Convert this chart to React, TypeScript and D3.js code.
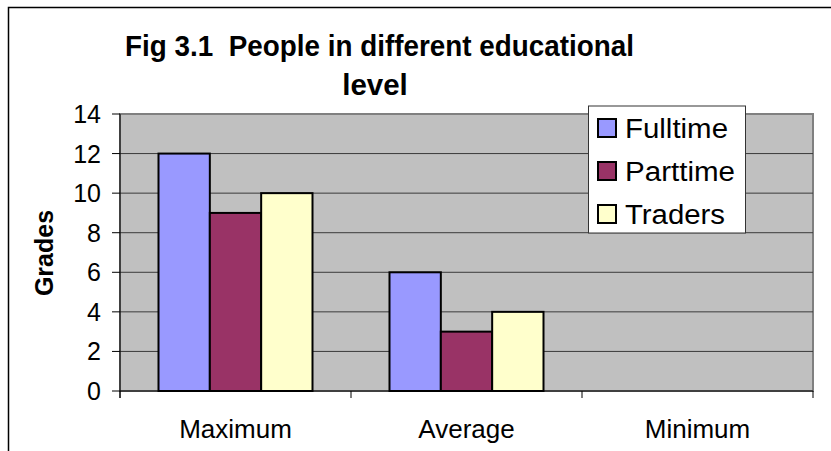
import React from "react";
import * as d3 from "d3";

const categories = ["Maximum", "Average", "Minimum"];
const seriesNames = ["Fulltime", "Parttime", "Traders"];
const fulltime = [12, 6, 0];
const parttime = [9, 3, 0];
const traders = [10, 4, 0];
const yTicks = [0, 2, 4, 6, 8, 10, 12, 14];
const colors = ["#9999FF", "#993366", "#FFFFCC"];

const W = 831, H = 451;
const plot = { left: 120, right: 813, top: 114, bottom: 391 };
const FONT = "Arial, 'Liberation Sans', sans-serif";

export default function App() {
  const series = [fulltime, parttime, traders];
  const x0 = d3.scaleBand<string>().domain(categories).range([plot.left, plot.right]).paddingInner(0).paddingOuter(0);
  const groupPad = x0.bandwidth() * (1.5 / 4.5) / 2;
  const x1 = d3.scaleBand<string>().domain(seriesNames).range([0, x0.bandwidth() - 2 * groupPad]).padding(0);
  const y = d3.scaleLinear().domain([0, 14]).range([plot.bottom, plot.top]);
  const catEdges = [...categories.map((c) => x0(c) as number), plot.right];
  const legendWidths = [103, 110, 100];

  return (
    <svg width={W} height={H} style={{ position: "absolute", left: 0, top: 0, display: "block" }} fontFamily={FONT}>
      <rect x={0} y={0} width={W} height={H} fill="#fff" />
      <rect x={8.5} y={7.5} width={W + 10} height={H + 10} fill="none" stroke="#000" strokeWidth={1.5} />
      <text x={125} y={56} fontWeight="bold" fontSize={29.5} textLength={509} lengthAdjust="spacingAndGlyphs" style={{ whiteSpace: "pre" }}>{"Fig 3.1  People in different educational"}</text>
      <text x={375} y={95} textAnchor="middle" fontWeight="bold" fontSize={29.5}>level</text>

      <rect x={plot.left} y={plot.top} width={plot.right - plot.left} height={plot.bottom - plot.top} fill="#C0C0C0" stroke="#808080" strokeWidth={2} />
      {yTicks.filter((t) => t > 0 && t < 14).map((t) => (
        <line key={"g" + t} x1={plot.left} x2={plot.right} y1={y(t)} y2={y(t)} stroke="#3a3a3a" strokeWidth={1} />
      ))}
      {categories.map((c, ci) =>
        series.map((s, si) =>
          s[ci] > 0 ? (
            <rect key={c + si}
              x={(x0(c) as number) + groupPad + (x1(seriesNames[si]) as number)}
              y={y(s[ci])}
              width={x1.bandwidth()}
              height={y(0) - y(s[ci])}
              fill={colors[si]} stroke="#000" strokeWidth={2} />
          ) : null
        )
      )}
      <line x1={plot.left} x2={plot.left} y1={plot.top} y2={plot.bottom + 7} stroke="#000" strokeWidth={1} />
      <line x1={plot.left} x2={plot.right} y1={plot.bottom} y2={plot.bottom} stroke="#000" strokeWidth={1.2} />
      {yTicks.map((t) => (
        <g key={"t" + t}>
          <line x1={plot.left - 8} x2={plot.left} y1={y(t)} y2={y(t)} stroke="#000" strokeWidth={1} />
          <text x={101} y={y(t) + 9} textAnchor="end" fontSize={25}>{t}</text>
        </g>
      ))}
      {catEdges.map((e, i) => (
        <line key={"c" + i} x1={e} x2={e} y1={plot.bottom} y2={plot.bottom + 7} stroke="#000" strokeWidth={1} />
      ))}
      {categories.map((c) => (
        <text key={"l" + c} x={(x0(c) as number) + x0.bandwidth() / 2} y={438} textAnchor="middle" fontSize={26}>{c}</text>
      ))}
      <text transform={`translate(53,253) rotate(-90)`} textAnchor="middle" fontWeight="bold" fontSize={25}>Grades</text>

      <rect x={588.5} y={106} width={157} height={127} fill="#fff" stroke="#333" strokeWidth={1} />
      {seriesNames.map((n, i) => (
        <g key={"lg" + n}>
          <rect x={598} y={119 + i * 43} width={18} height={18} fill={colors[i]} stroke="#000" strokeWidth={2} />
          <text x={625} y={138 + i * 43} fontSize={27} textLength={legendWidths[i]} lengthAdjust="spacingAndGlyphs">{n}</text>
        </g>
      ))}
    </svg>
  );
}
